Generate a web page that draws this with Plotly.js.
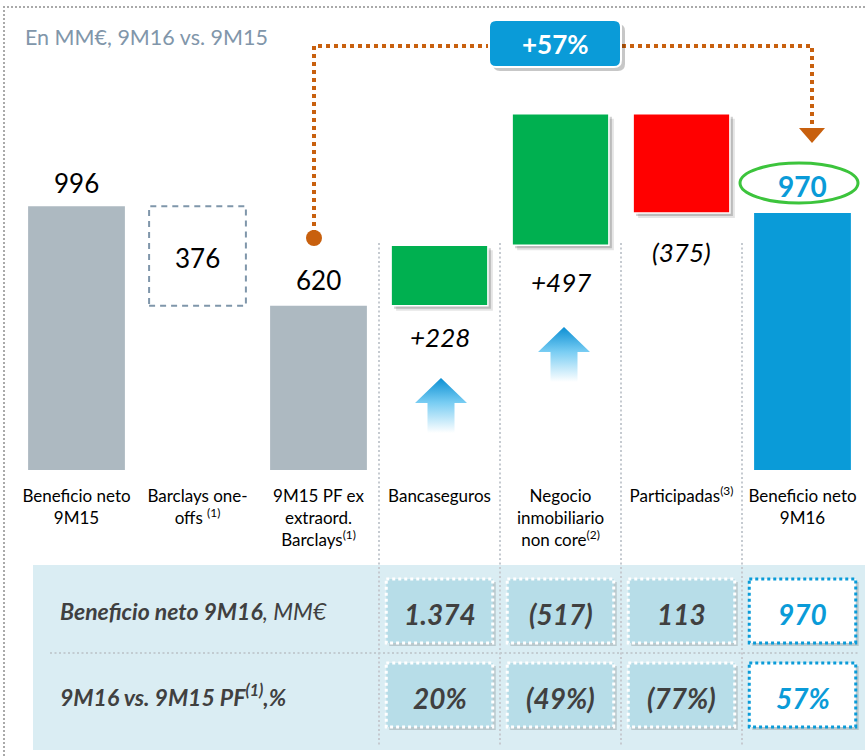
<!DOCTYPE html>
<html><head><meta charset="utf-8">
<script src="https://cdn.plot.ly/plotly-3.0.1.min.js"></script>
<style>html,body{margin:0;padding:0;background:#fff}#chart{width:865px;height:756px}</style>
</head><body><div id="chart"></div>
<script>
// ---------------- DATA ----------------
const categories = ['Beneficio neto<br>9M15', 'Barclays one-<br>offs <sup>(1)</sup>', '9M15 PF ex<br>extraord.<br>Barclays<sup>(1)</sup>', 'Bancaseguros', 'Negocio<br>inmobiliario<br>non core<sup>(2)</sup>', 'Participadas<sup>(3)</sup>', 'Beneficio neto<br>9M16'];
const measures = ['absolute', 'relative', 'total', 'relative', 'relative', 'relative', 'total'];
const values = [996, -376, 620, 228, 497, -375, 970];
const valueLabels = ['996', '376', '620', '+228', '+497', '(375)', '970'];
const growthLabel = '+57%';
const tableRowLabels = ['<b>Beneficio neto 9M16</b>, MM€', '<b>9M16 vs. 9M15 PF<sup>(1)</sup>,%</b>'];
const tableColumns = [3, 4, 5, 6];
const tableRow1 = ['1.374', '(517)', '113', '970'];
const tableRow2 = ['20%', '(49%)', '(77%)', '57%'];
const titleText = 'En MM€, 9M16 vs. 9M15';

// ---------------- STYLE ----------------
const W = 865, H = 756;
const FONT = 'Lato, "Open Sans", sans-serif';
const GRAY = '#adb9c1', GREEN = '#00b050', RED = '#ff0000', BLUE = '#0a9bd8', ORANGE = '#c8600e';
const TXT = '#404040';
const px = x => x / W;
const py = y => 1 - y / H;
const plotL = 16, plotR = 863, plotT = 30, plotB = 470;
const YMAX = 1661;
const unitX = (plotR - plotL) / categories.length;     // px per category
const unitY = (plotB - plotT) / YMAX;                   // px per value

// waterfall geometry computed from data
let running = 0;
const bases = [], heights = [], tops = [], bottoms = [];
values.forEach((v, i) => {
  let b, h;
  if (measures[i] === 'absolute') { b = 0; h = v; running = v; }
  else if (measures[i] === 'total') { b = 0; h = running; }
  else { b = v >= 0 ? running : running + v; h = Math.abs(v); running += v; }
  bases.push(b); heights.push(h); tops.push(b + h); bottoms.push(b);
});
const xs = categories.map((c, i) => i);
const colors = [GRAY, 'rgba(0,0,0,0)', GRAY, GREEN, GREEN, RED, BLUE];
const lineW = [0, 0, 0, 1.5, 1.5, 1.5, 0];
const shadowIdx = [3, 4, 5];

const traces = [];
[[5, 0.10], [3, 0.18]].forEach(([d, a]) => {
  traces.push({
    type: 'bar', x: shadowIdx.map(i => xs[i]), y: shadowIdx.map(i => heights[i]),
    base: shadowIdx.map(i => bases[i] - d / unitY), width: 0.8, offset: -0.4 + d / unitX,
    marker: { color: `rgba(0,0,0,${a})`, line: { width: 0 } }, hoverinfo: 'skip'
  });
});
traces.push({
  type: 'bar', x: xs, y: heights, base: bases, width: 0.8,
  marker: { color: colors, line: { color: '#ffffff', width: lineW } }, hoverinfo: 'skip'
});
// invisible anchor trace for the table subplot
traces.push({ type: 'scatter', mode: 'markers', xaxis: 'x', yaxis: 'y2', x: tableColumns, y: tableColumns.map(() => 0),
  marker: { opacity: 0 }, hoverinfo: 'skip' });

// ---------------- ANNOTATIONS ----------------
const labelCfg = [
  { y: tops[0], s: 23, f: { size: 26, color: '#000' } },
  { y: (tops[1] + bottoms[1]) / 2, s: -2, f: { size: 26, color: '#000' } },
  { y: tops[2], s: 26, f: { size: 26, color: '#000' } },
  { y: bottoms[3], s: -31, f: { size: 26, color: '#000', style: 'italic' } },
  { y: bottoms[4], s: -37, f: { size: 26, color: '#000', style: 'italic' } },
  { y: bottoms[5], s: -39, f: { size: 26, color: '#000', style: 'italic' } },
  { y: tops[6], s: 27, f: { size: 28, color: BLUE, weight: 'bold' } }
];
const annotations = valueLabels.map((t, i) => ({
  x: xs[i], y: labelCfg[i].y, xref: 'x', yref: 'y', text: t, showarrow: false,
  yanchor: 'middle', yshift: labelCfg[i].s, font: Object.assign({ family: FONT }, labelCfg[i].f)
}));
annotations.push({ x: px(23), y: py(37), xref: 'paper', yref: 'paper', xanchor: 'left', yanchor: 'middle',
  text: titleText, showarrow: false, font: { family: FONT, size: 21.5, color: '#8196aa' } });
annotations.push({ x: px(555), y: py(44), xref: 'paper', yref: 'paper', xanchor: 'center', yanchor: 'middle',
  text: growthLabel, showarrow: false, font: { family: FONT, size: 26, color: '#fff', weight: 'bold' } });
tableRowLabels.forEach((t, r) => annotations.push({
  x: px(58), y: r, xref: 'paper', yref: 'y2', xanchor: 'left', yanchor: 'middle', text: t, showarrow: false,
  font: { family: FONT, size: 23, color: TXT, style: 'italic' }
}));
// table values
[tableRow1, tableRow2].forEach((row, r) => row.forEach((t, k) => annotations.push({
  x: tableColumns[k], y: r, xref: 'x', yref: 'y2', xanchor: 'center', yanchor: 'middle', yshift: -3,
  text: t, showarrow: false,
  font: { family: FONT, size: 28, weight: 'bold', style: 'italic', color: tableColumns[k] === 6 ? BLUE : TXT }
})));

// ---------------- SHAPES ----------------
const shapes = [];
const P = (x, y) => `${px(x)},${py(y)}`;
function roundRect(x0, y0, x1, y1, r) {
  return `M${P(x0 + r, y0)} L${P(x1 - r, y0)} Q${P(x1, y0)} ${P(x1, y0 + r)} L${P(x1, y1 - r)} Q${P(x1, y1)} ${P(x1 - r, y1)} L${P(x0 + r, y1)} Q${P(x0, y1)} ${P(x0, y1 - r)} L${P(x0, y0 + r)} Q${P(x0, y0)} ${P(x0 + r, y0)} Z`;
}
// outer dotted frame
shapes.push({ type: 'path', xref: 'paper', yref: 'paper', path: `M${P(4, 756)} L${P(4, 7)} L${P(866, 7)}`,
  line: { color: '#aaaaaa', width: 2, dash: '2px,2px' }, layer: 'below' });
// table background
shapes.push({ type: 'rect', xref: 'paper', yref: 'paper', x0: px(33), x1: px(866), y0: py(565), y1: py(750),
  fillcolor: '#daedf3', line: { width: 0 }, layer: 'below' });
// vertical separators
[2.5, 3.5, 4.5, 5.5].forEach(x => shapes.push({ type: 'line', xref: 'x', yref: 'paper', x0: x, x1: x, y0: py(243), y1: py(745),
  line: { color: '#c5cad0', width: 2, dash: '2px,2.5px' }, layer: 'below' }));
// horizontal separator in table
shapes.push({ type: 'line', xref: 'paper', yref: 'y2', x0: px(50), x1: px(860), y0: 0.5, y1: 0.5,
  line: { color: '#c2ccd1', width: 2, dash: '2px,2.5px' }, layer: 'below' });
// table cells
const y2Unit = 84; // px per row
[0, 1].forEach(r => tableColumns.forEach(c => {
  const dx = 3 / unitX, dy = 3 / y2Unit;
  shapes.push({ type: 'rect', xref: 'x', yref: 'y2', x0: c - 0.44 + dx, x1: c + 0.44 + dx, y0: r - 0.38 + dy, y1: r + 0.38 + dy,
    fillcolor: 'rgba(0,0,0,0.15)', line: { width: 0 }, layer: 'below' });
  shapes.push({ type: 'rect', xref: 'x', yref: 'y2', x0: c - 0.44, x1: c + 0.44, y0: r - 0.38, y1: r + 0.38,
    fillcolor: c === 6 ? '#ffffff' : '#b7dde8', line: { color: c === 6 ? BLUE : '#ffffff', width: 3, dash: '3px,3px' }, layer: 'below' });
}));
// dashed box for Barclays one-offs
shapes.push({ type: 'rect', xref: 'x', yref: 'y', x0: xs[1] - 0.4, x1: xs[1] + 0.4, y0: bottoms[1], y1: tops[1],
  line: { color: '#7f96aa', width: 2, dash: '6px,5px' }, fillcolor: 'rgba(0,0,0,0)' });
// orange connector
shapes.push({ type: 'path', xref: 'paper', yref: 'paper', path: `M${P(314, 234)} L${P(314, 46)} L${P(812, 46)} L${P(812, 130)}`,
  line: { color: ORANGE, width: 4, dash: '4px,4px' } });
shapes.push({ type: 'circle', xref: 'paper', yref: 'paper', x0: px(306), x1: px(322), y0: py(230), y1: py(246),
  fillcolor: ORANGE, line: { width: 0 } });
shapes.push({ type: 'path', xref: 'paper', yref: 'paper', path: `M${P(799, 128)} L${P(825, 128)} L${P(812, 143)} Z`,
  fillcolor: ORANGE, line: { width: 0 } });
// +57% badge
shapes.push({ type: 'path', xref: 'paper', yref: 'paper', path: roundRect(493, 24, 625, 71, 7),
  fillcolor: 'rgba(0,0,0,0.22)', line: { width: 0 } });
shapes.push({ type: 'path', xref: 'paper', yref: 'paper', path: roundRect(489, 20, 621, 67, 7),
  fillcolor: BLUE, line: { color: '#ffffff', width: 2 } });
// green ellipse around 970
shapes.push({ type: 'circle', xref: 'paper', yref: 'paper', x0: px(740), x1: px(858), y0: py(163), y1: py(203),
  line: { color: '#3cc43c', width: 3 } });

// ---------------- IMAGES (gradient arrows) ----------------
const arrowSrc = 'data:image/svg+xml;charset=utf-8,' + encodeURIComponent(
  '<svg xmlns="http://www.w3.org/2000/svg" width="52" height="55" viewBox="0 0 52 55">' +
  '<defs><linearGradient id="g" x1="0" y1="0" x2="0" y2="1">' +
  '<stop offset="0" stop-color="#0b8fd3"/><stop offset="0.45" stop-color="#79cdf3"/><stop offset="1" stop-color="#ffffff"/>' +
  '</linearGradient></defs><path d="M26 0 L52 25 L39.5 25 L39.5 55 L12.5 55 L12.5 25 L0 25 Z" fill="url(#g)"/></svg>');
const images = [[415, 378], [538, 327]].map(([x, y]) => ({
  source: arrowSrc, xref: 'paper', yref: 'paper', x: px(x), y: py(y), sizex: 52 / W, sizey: 55 / H,
  xanchor: 'left', yanchor: 'top', sizing: 'stretch', layer: 'above'
}));

// ---------------- LAYOUT ----------------
const r0 = 611, r1 = 695, tTop = 565, tBot = 750;
const layout = {
  width: W, height: H, margin: { l: 0, r: 0, t: 0, b: 0 },
  paper_bgcolor: '#ffffff', plot_bgcolor: 'rgba(0,0,0,0)', showlegend: false, barmode: 'overlay',
  font: { family: FONT, color: '#000' },
  xaxis: { domain: [px(plotL), px(plotR)], range: [-0.5, categories.length - 0.5], tickvals: xs, ticktext: categories,
    showgrid: false, zeroline: false, showline: false, ticks: '', ticklabelstandoff: 14,
    tickfont: { family: FONT, size: 17, color: '#000' }, fixedrange: true },
  yaxis: { domain: [py(plotB), py(plotT)], range: [0, YMAX], visible: false, fixedrange: true },
  yaxis2: { domain: [py(tBot), py(tTop)], anchor: 'x', range: [1 + (tBot - r1) / y2Unit, -(r0 - tTop) / y2Unit], visible: false, fixedrange: true },
  annotations, shapes, images, hovermode: false
};
Plotly.newPlot('chart', traces, layout, { staticPlot: true, displayModeBar: false });
</script></body></html>
